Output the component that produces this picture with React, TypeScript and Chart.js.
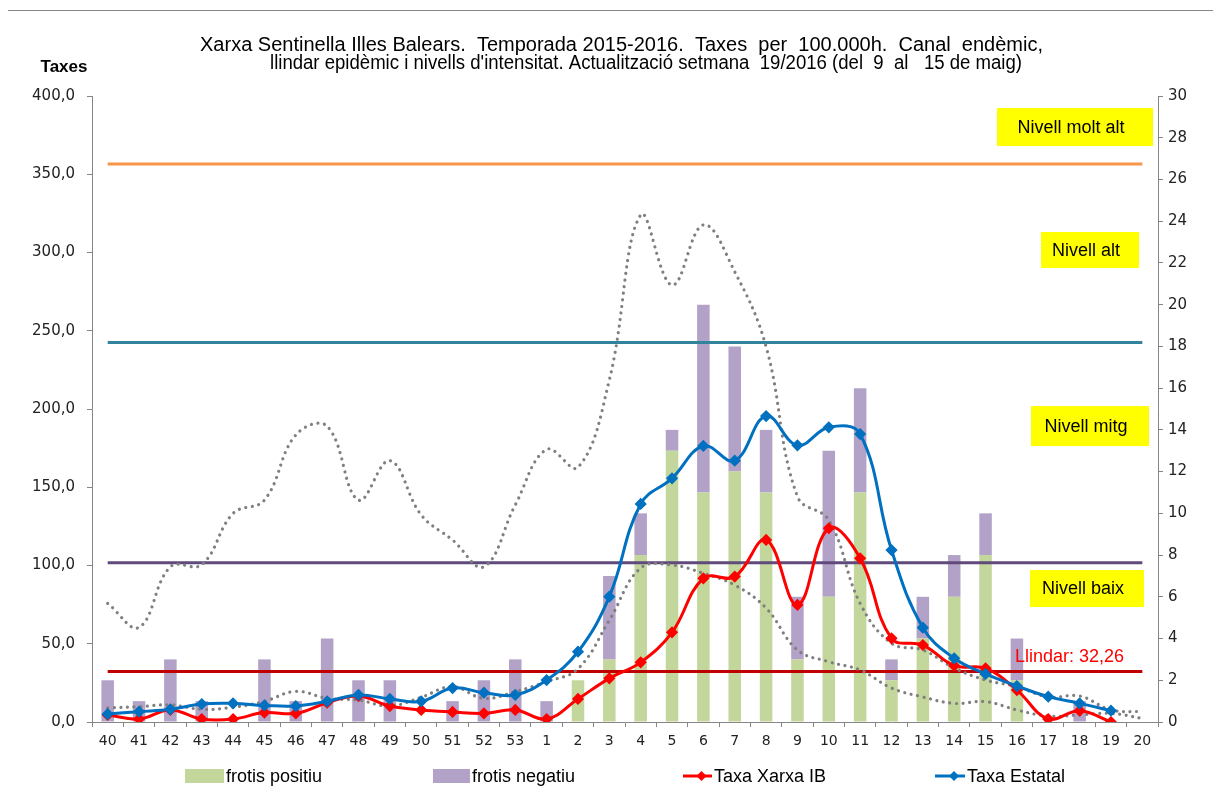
import React, { useEffect, useRef } from 'react';
import { Chart, registerables } from 'chart.js';

Chart.register(...registerables);

// ---------- data ----------
const weeks = ['40', '41', '42', '43', '44', '45', '46', '47', '48', '49', '50', '51', '52', '53',
  '1', '2', '3', '4', '5', '6', '7', '8', '9', '10', '11', '12', '13', '14', '15', '16', '17', '18', '19', '20'];

const frotisPositiu = [0, 0, 0, 0, 0, 0, 0, 0, 0, 0, 0, 0, 0, 0,
  0, 2, 3, 8, 13, 11, 12, 11, 3, 6, 11, 2, 4, 6, 8, 2, 0, 0, 0, 0];
const frotisNegatiu = [2, 1, 3, 1, 0, 3, 1, 4, 2, 2, 0, 1, 2, 3,
  1, 0, 4, 2, 1, 9, 6, 3, 3, 7, 5, 1, 2, 2, 2, 2, 0, 1, 0, 0];

const taxaXarxaIB = [4.5, 1.9, 7.7, 1.9, 1.9, 6.0, 5.5, 12.3, 16.6, 10.2, 7.7, 6.4, 5.5, 7.7,
  1.9, 14.7, 27.9, 38.1, 57.3, 91.8, 92.9, 116.3, 74.8, 123.8, 104.6, 53.5, 49.2, 36.0, 34.3, 20.4, 1.9, 7.2, 0, null];
const taxaEstatal = [5.1, 6.6, 8.1, 11.5, 11.9, 10.6, 10.2, 13.2, 17.3, 14.7, 13.2, 21.7, 18.7, 17.3,
  26.8, 44.9, 80.1, 139.3, 155.7, 176.4, 167.0, 195.5, 176.8, 188.3, 184.0, 109.9, 60.3, 40.7, 30.7, 23.0, 16.2, 11.9, 7.2, null];

const canalSuperior = [75.8, 60.5, 99.2, 100.5, 133.3, 141.8, 183.4, 189.0, 141.8, 167.0, 132.3, 116.3, 99.2, 138.7,
  174.2, 162.7, 218.5, 324.0, 279.2, 317.6, 287.7, 239.8, 144.0, 129.0, 75.8, 50.3, 46.0, 34.5, 26.8, 22.6, 16.0, 16.6, 7.7, 6.6];
const canalInferior = [9.0, 9.8, 10.9, 8.1, 9.4, 13.2, 19.6, 15.1, 14.0, 10.2, 15.8, 22.6, 15.1, 19.4,
  25.8, 34.0, 65.0, 98.4, 100.3, 95.0, 87.5, 72.8, 46.0, 38.5, 33.2, 21.7, 16.0, 11.9, 13.0, 7.7, 3.8, 4.5, 5.5, 2.3];

const llindar = 32.26;
const limitBaixMitg = 101.8;
const limitMitgAlt = 242.5;
const limitAltMoltAlt = 356.5;

const leftAxis = { min: 0, max: 400, step: 50 };
const rightAxis = { min: 0, max: 30, step: 2 };

const titleLines = [
  'Xarxa Sentinella Illes Balears.  Temporada 2015-2016.  Taxes  per  100.000h.  Canal  endèmic,',
  "llindar epidèmic i nivells d'intensitat. Actualització setmana  19/2016 (del  9  al   15 de maig)",
];
const levelLabels = ['Nivell molt alt', 'Nivell alt', 'Nivell mitg', 'Nivell baix'];
const levelLabelValues = [380.2, 301.6, 189.1, 85.3];
const llindarLabel = 'Llindar: 32,26';
const legendLabels = ['frotis positiu', 'frotis negatiu', 'Taxa Xarxa IB', 'Taxa Estatal'];

// ---------- styles ----------
const GREEN = '#C3D69B';
const PURPLE = '#B3A2C7';
const RED = '#FF0000';
const BLUE = '#0070C0';
const GRAY = '#7F7F7F';
const AXIS = '#868686';
const SANS = '"Liberation Sans", Arial, sans-serif';
const AXFONT = '"DejaVu Sans", Verdana, sans-serif';

const fitText = (ctx: CanvasRenderingContext2D, text: string, cx: number, cy: number, w: number) => {
  const m = ctx.measureText(text).width;
  ctx.save();
  ctx.translate(cx, cy);
  ctx.scale(w / m, 1);
  ctx.textAlign = 'center';
  ctx.textBaseline = 'middle';
  ctx.fillText(text, 0, 0);
  ctx.restore();
};

const decorPlugin = {
  id: 'decor',
  afterDraw(chart: any) {
    const ctx: CanvasRenderingContext2D = chart.ctx;
    const ya = chart.scales.y;
    const right = chart.chartArea.right;
    ctx.save();
    // title
    ctx.fillStyle = '#000';
    ctx.font = `20px ${SANS}`;
    fitText(ctx, titleLines[0], 613.5, 34, 843);
    fitText(ctx, titleLines[1], 638, 52.5, 752);
    // axis title
    ctx.font = `bold 17px ${SANS}`;
    ctx.textAlign = 'center';
    ctx.textBaseline = 'middle';
    ctx.fillText('Taxes', 56, 56);

    // yellow level labels
    const boxes = [
      { dx: -161, w: 156, h: 38 },
      { dx: -117, w: 98, h: 36 },
      { dx: -127, w: 118, h: 40 },
      { dx: -128, w: 114, h: 37 },
    ];
    ctx.font = `18px ${SANS}`;
    levelLabels.forEach((lab, i) => {
      const b = boxes[i];
      const cy = ya.getPixelForValue(levelLabelValues[i]);
      const x = right + b.dx;
      ctx.fillStyle = '#FFFF00';
      ctx.fillRect(x, cy - b.h / 2, b.w, b.h);
      ctx.fillStyle = '#000';
      ctx.textAlign = 'center';
      ctx.textBaseline = 'middle';
      ctx.fillText(lab, x + b.w / 2 - 4, cy + 1);
    });

    // threshold label
    ctx.fillStyle = RED;
    ctx.font = `18px ${SANS}`;
    ctx.textAlign = 'left';
    ctx.textBaseline = 'middle';
    ctx.fillText(llindarLabel, right - 143, ya.getPixelForValue(41.5));

    // legend
    const ly = 765;
    const items = [
      { kind: 'box', color: GREEN, x: 177, w: 39 },
      { kind: 'box', color: PURPLE, x: 425, w: 37 },
      { kind: 'line', color: RED, x: 675, w: 29 },
      { kind: 'line', color: BLUE, x: 927, w: 30 },
    ];
    items.forEach((it, i) => {
      if (it.kind === 'box') {
        ctx.fillStyle = it.color;
        ctx.fillRect(it.x, ly - 7, it.w, 14);
      } else {
        ctx.strokeStyle = it.color;
        ctx.lineWidth = 3;
        ctx.beginPath();
        ctx.moveTo(it.x, ly);
        ctx.lineTo(it.x + it.w, ly);
        ctx.stroke();
        ctx.fillStyle = it.color;
        const cx = it.x + it.w / 2 + 4;
        ctx.beginPath();
        ctx.moveTo(cx, ly - 5);
        ctx.lineTo(cx + 5, ly);
        ctx.lineTo(cx, ly + 5);
        ctx.lineTo(cx - 5, ly);
        ctx.closePath();
        ctx.fill();
      }
      ctx.fillStyle = '#000';
      ctx.font = `18px ${SANS}`;
      ctx.textAlign = 'left';
      ctx.textBaseline = 'middle';
      ctx.fillText(legendLabels[i], it.x + it.w + 2, ly + 1);
    });
    ctx.restore();
  },
};

const constLine = (label: string, value: number, color: string) => ({
  type: 'line' as const,
  label,
  data: weeks.map(() => value),
  borderColor: color,
  backgroundColor: color,
  borderWidth: 3,
  pointRadius: 0,
  tension: 0,
  yAxisID: 'y',
  order: 6,
});

const dottedLine = (label: string, data: number[]) => ({
  type: 'line' as const,
  label,
  data,
  borderColor: GRAY,
  borderWidth: 3.2,
  borderDash: [0.01, 6.6],
  borderCapStyle: 'round' as const,
  pointRadius: 0,
  tension: 0.4,
  yAxisID: 'y',
  order: 5,
});

const rateLine = (label: string, data: (number | null)[], color: string, order: number) => ({
  type: 'line' as const,
  label,
  data,
  borderColor: color,
  backgroundColor: color,
  borderWidth: 3,
  pointStyle: 'rectRot' as const,
  pointRadius: 4,
  pointBackgroundColor: color,
  pointBorderColor: color,
  tension: 0.4,
  yAxisID: 'y',
  order,
});

export default function App() {
  const ref = useRef<HTMLCanvasElement | null>(null);
  useEffect(() => {
    if (!ref.current) return;
    const chart = new Chart(ref.current, {
      data: {
        labels: weeks,
        datasets: [
          {
            type: 'bar', label: legendLabels[0], data: frotisPositiu, backgroundColor: GREEN,
            yAxisID: 'y1', stack: 'frotis', barPercentage: 0.4, categoryPercentage: 1, order: 10,
          },
          {
            type: 'bar', label: legendLabels[1], data: frotisNegatiu, backgroundColor: PURPLE,
            yAxisID: 'y1', stack: 'frotis', barPercentage: 0.4, categoryPercentage: 1, order: 10,
          },
          constLine('Nivell molt alt', limitAltMoltAlt, '#F79646'),
          constLine('Nivell alt', limitMitgAlt, '#31849B'),
          constLine('Nivell mitg', limitBaixMitg, '#604A7B'),
          constLine('Llindar', llindar, '#C00000'),
          dottedLine('Canal superior', canalSuperior),
          dottedLine('Canal inferior', canalInferior),
          rateLine(legendLabels[2], taxaXarxaIB, RED, 2),
          rateLine(legendLabels[3], taxaEstatal, BLUE, 1),
        ] as any,
      },
      options: {
        animation: false,
        responsive: false,
        devicePixelRatio: 1,
        layout: { padding: { top: 85, left: 0, right: 0, bottom: 43 } },
        plugins: { legend: { display: false }, title: { display: false }, tooltip: { enabled: false } },
        events: [],
        scales: {
          x: {
            type: 'category',
            stacked: true,
            offset: true,
            grid: { offset: true, drawOnChartArea: false, drawTicks: true, tickLength: 5, color: AXIS },
            border: { color: AXIS, width: 1 },
            ticks: { font: { family: AXFONT, size: 14 }, color: '#222', padding: 6, maxRotation: 0, autoSkip: false },
            afterFit: (s: any) => { s.height = 30; },
          },
          y: {
            position: 'left',
            min: leftAxis.min,
            max: leftAxis.max,
            ticks: {
              stepSize: leftAxis.step,
              font: { family: AXFONT, size: 15 },
              color: '#222',
              padding: 12,
              callback: (v: any) => Number(v).toFixed(1).replace('.', ','),
            },
            grid: { drawOnChartArea: false, drawTicks: true, tickLength: 5, color: AXIS },
            border: { color: AXIS, width: 1 },
            afterFit: (s: any) => { s.width = 84; },
          },
          y1: {
            position: 'right',
            stacked: true,
            min: rightAxis.min,
            max: rightAxis.max,
            ticks: { stepSize: rightAxis.step, font: { family: AXFONT, size: 15 }, color: '#222', padding: 5 },
            grid: { drawOnChartArea: false, drawTicks: true, tickLength: 5, color: AXIS },
            border: { color: AXIS, width: 1 },
            afterFit: (s: any) => { s.width = 55; },
          },
        },
      } as any,
      plugins: [decorPlugin],
    });
    return () => chart.destroy();
  }, []);

  return (
    <div style={{ paddingTop: 2 }}>
      <div style={{ marginLeft: -1, borderLeft: `1px solid ${AXIS}`, borderTop: `1px solid ${AXIS}`, width: 1205, height: 784 }}>
        <canvas ref={ref} width={1205} height={784} style={{ display: 'block', width: 1205, height: 784 }} />
      </div>
    </div>
  );
}
